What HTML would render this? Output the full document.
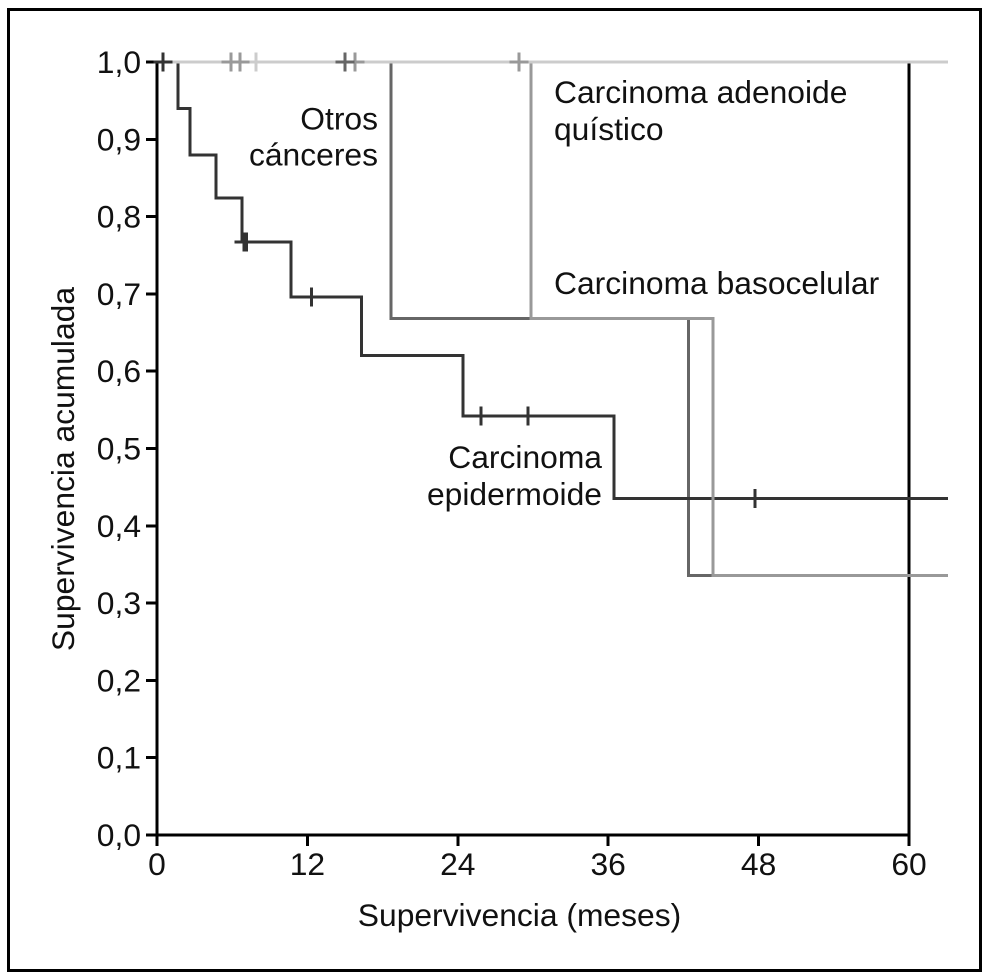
<!DOCTYPE html>
<html lang="es">
<head>
<meta charset="utf-8">
<title>Supervivencia acumulada</title>
<style>
html,body{margin:0;padding:0;background:#fff;}
svg{display:block;}
text{font-family:"Liberation Sans",Arial,sans-serif;font-size:31.8px;fill:#111;}
</style>
</head>
<body>
<svg id="chart" xmlns="http://www.w3.org/2000/svg" width="998" height="979" viewBox="0 0 998 979">
<rect x="8.5" y="9.5" width="972" height="961" fill="#fff" stroke="#000" stroke-width="3"/>
<g id="axes"></g>
<g id="series"></g>
<text x="519.5" y="926" text-anchor="middle">Supervivencia (meses)</text>
<text transform="translate(74 469) rotate(-90)" text-anchor="middle">Supervivencia acumulada</text>
<text x="378" y="129.5" text-anchor="end">Otros</text>
<text x="378" y="165.5" text-anchor="end">cánceres</text>
<text x="554" y="103">Carcinoma adenoide</text>
<text x="554" y="140">quístico</text>
<text x="554" y="294">Carcinoma basocelular</text>
<text x="602" y="468" text-anchor="end">Carcinoma</text>
<text x="602" y="505" text-anchor="end">epidermoide</text>
</svg>
<script>
var xTickValues = [0, 12, 24, 36, 48, 60];
var yTickValues = [0, 0.1, 0.2, 0.3, 0.4, 0.5, 0.6, 0.7, 0.8, 0.9, 1];
var yTickLabels = ['0,0', '0,1', '0,2', '0,3', '0,4', '0,5', '0,6', '0,7', '0,8', '0,9', '1,0'];

var otrosTimes = [0, 18.66, 42.4, 44.35];
var otrosSurv = [1, 0.668, 0.336, 0.336];
var otrosCensors = [15.0];

var epidTimes = [0, 1.68, 2.63, 4.72, 6.78, 10.7, 16.3, 24.43, 36.48, 63.1];
var epidSurv = [1, 0.94, 0.88, 0.824, 0.767, 0.696, 0.62, 0.542, 0.435, 0.435];
var epidCensors = [0.48, 6.94, 7.14, 12.33, 25.86, 29.6, 47.72];

var basoTimes = [18.66, 29.85, 44.35, 63.1];
var basoSurv = [1, 0.668, 0.336, 0.336];
var basoCensors = [5.9, 6.63, 15.8, 28.9];

var adenoTimes = [0, 63.1];
var adenoSurv = [1, 1];
var adenoCensors = [7.88];

var svgNS = 'http://www.w3.org/2000/svg';
var axesGroup = document.getElementById('axes');
var seriesGroup = document.getElementById('series');

function xScale(t) { return 157 + t * (752 / 60); }
function yScale(v) { return 835 - v * 773; }

function addLine(parent, x1, y1, x2, y2, color) {
  var l = document.createElementNS(svgNS, 'line');
  l.setAttribute('x1', x1);
  l.setAttribute('y1', y1);
  l.setAttribute('x2', x2);
  l.setAttribute('y2', y2);
  l.setAttribute('stroke', color);
  l.setAttribute('stroke-width', 3);
  l.setAttribute('shape-rendering', 'crispEdges');
  parent.appendChild(l);
  return l;
}

function addText(parent, x, y, anchor, str) {
  var t = document.createElementNS(svgNS, 'text');
  t.setAttribute('x', x);
  t.setAttribute('y', y);
  t.setAttribute('text-anchor', anchor);
  t.textContent = str;
  parent.appendChild(t);
  return t;
}

var xAxisLine = addLine(axesGroup, xScale(0), yScale(0), xScale(60), yScale(0), '#000');



var yAxisLine = addLine(axesGroup, xScale(0), yScale(0), xScale(0), yScale(1), '#000');



var rightLine = addLine(axesGroup, xScale(60), yScale(0), xScale(60), yScale(1), '#000');



xTickValues.forEach(function (v) {
  var tick = addLine(axesGroup, xScale(v), yScale(0), xScale(v), yScale(0) + 11, '#000');
  
  
  var label = addText(axesGroup, xScale(v), 875, 'middle', String(v));
  
  
});

yTickValues.forEach(function (v, i) {
  var tick = addLine(axesGroup, xScale(0) - 11, yScale(v), xScale(0), yScale(v), '#000');
  
  
  var label = addText(axesGroup, 141, yScale(v) + 11, 'end', yTickLabels[i]);
  
  
});

function drawSteps(times, surv, color, name) {
  var d = 'M' + xScale(times[0]) + ' ' + yScale(surv[0]);
  for (var i = 1; i < times.length; i++) {
    d += ' H' + xScale(times[i]);
    d += ' V' + yScale(surv[i]);
  }
  var p = document.createElementNS(svgNS, 'path');
  p.setAttribute('d', d);
  p.setAttribute('fill', 'none');
  p.setAttribute('stroke', color);
  p.setAttribute('stroke-width', 3);
  p.setAttribute('shape-rendering', 'crispEdges');
  
  
  seriesGroup.appendChild(p);
}

// Survival value at time t for a step curve
function survAt(times, surv, t) {
  var s = surv[0];
  for (var i = 1; i < times.length; i++) {
    if (t >= times[i]) { s = surv[i]; }
  }
  return s;
}

function drawCensors(list, times, surv, color, name) {
  list.forEach(function (t) {
    var cx = xScale(t);
    var cy = t < times[0] ? yScale(1) : yScale(survAt(times, surv, t));
    var h = addLine(seriesGroup, cx - 9.5, cy, cx + 9.5, cy, color);
    
    
    var v = addLine(seriesGroup, cx, cy - 9.5, cx, cy + 9.5, color);
    
    
  });
}

drawSteps(otrosTimes, otrosSurv, '#666', 'otros-canceres-curve');
drawSteps(epidTimes, epidSurv, '#333', 'carcinoma-epidermoide-curve');
drawSteps(basoTimes, basoSurv, '#999', 'carcinoma-basocelular-curve');
drawSteps(adenoTimes, adenoSurv, '#ccc', 'carcinoma-adenoide-curve');

drawCensors(adenoCensors, adenoTimes, adenoSurv, '#ccc', 'adenoide-censor');
drawCensors(basoCensors, basoTimes, basoSurv, '#999', 'basocelular-censor');
drawCensors(otrosCensors, otrosTimes, otrosSurv, '#666', 'otros-censor');
drawCensors(epidCensors, epidTimes, epidSurv, '#333', 'epidermoide-censor');
</script>
</body>
</html>
